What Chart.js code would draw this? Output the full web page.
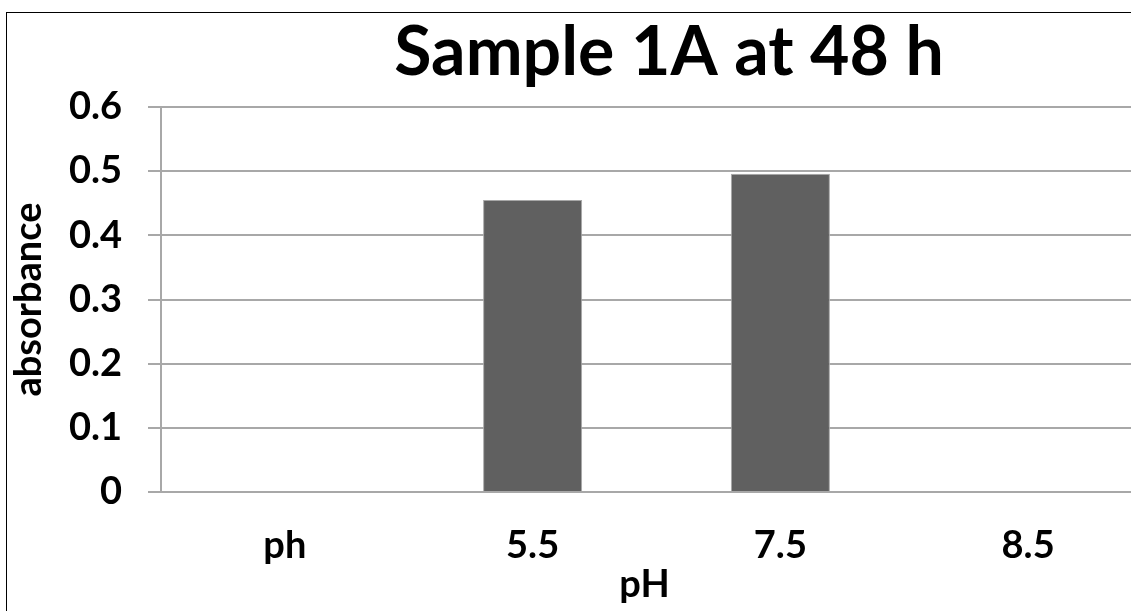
<!DOCTYPE html>
<html>
<head>
<meta charset="utf-8">
<script src="https://cdn.jsdelivr.net/npm/chart.js@4/dist/chart.umd.min.js"></script>
<style>
  html, body { margin: 0; padding: 0; background: #fff; overflow: hidden; }
  #wrap { position: relative; width: 1131px; height: 611px; overflow: hidden; }
  #chart { position: absolute; left: 0; top: 0; }
  #frame { position: absolute; left: 6px; top: 12px; width: 1300px; height: 700px;
           border-left: 1px solid #000; border-top: 1px solid #000; pointer-events: none; }
</style>
</head>
<body>
<div id="wrap">
  <canvas id="chart" width="1160" height="611"></canvas>
  <div id="frame"></div>
</div>
<script>
labels = ['ph', '5.5', '7.5', '8.5']
absorbance = [null, 0.455, 0.496, null]
yTicks = [0, 0.1, 0.2, 0.3, 0.4, 0.5, 0.6]

font = 'Lato'
Chart.defaults.font.family = font
Chart.defaults.font.weight = 'bold'
Chart.defaults.color = '#000'

// move the chart title and the x axis title to where the original has them
titleShift = {
    id: 'titleShift',
    afterLayout(chart) {
        chart.titleBlock.left += 186
        const sx = chart.scales.x
        if (!sx._shifted) {
            const orig = sx.drawTitle.bind(sx)
            sx.drawTitle = function () {
                this.left -= 12; this.right -= 12
                orig()
                this.left += 12; this.right += 12
            }
            sx._shifted = true
        }
    }
}

config = {
    type: 'bar',
    data: {
        labels,
        datasets: [{
            label: 'absorbance',
            data: absorbance,
            backgroundColor: '#606060',
            borderColor: '#a8a8a8',
            borderWidth: 1,
            barPercentage: 0.4,
            categoryPercentage: 1,
        }]
    },
    options: {
        responsive: false,
        animation: false,
        layout: { padding: { left: 0, right: 8, top: 0, bottom: 0 } },
        plugins: {
            legend: { display: false },
            tooltip: { enabled: false },
            title: {
                display: true,
                text: 'Sample 1A at 48 h',
                color: '#000',
                font: { size: 68, weight: 'bold', lineHeight: 1 },
                padding: { top: 19, bottom: 20 },
            },
        },
        scales: {
            x: {
                grid: { display: false, drawTicks: false },
                border: { display: false },
                ticks: { font: { size: 38 }, padding: 31, color: '#000' },
                title: { display: true, text: 'pH', color: '#000',
                         font: { size: 38, weight: 'bold' }, padding: { top: 0, bottom: 3 } },
                afterFit(scale) { scale.height = 119 },
            },
            y: {
                min: 0,
                max: 0.6,
                afterBuildTicks(scale) { scale.ticks = yTicks.map(v => ({ value: v })) },
                grid: { color: '#a8a8a8', lineWidth: 2, tickLength: 13, drawTicks: true },
                border: { color: '#a8a8a8', width: 2 },
                ticks: { font: { size: 38 }, padding: 26, color: '#000',
                         callback: v => String(v) },
                title: { display: true, text: 'absorbance', color: '#000',
                         font: { size: 38, weight: 'bold' }, padding: { top: 6, bottom: 0 } },
                afterFit(scale) { scale.width = 161 },
            }
        }
    },
    plugins: [titleShift]
};

ctx = document.getElementById('chart');
new Chart(ctx, config);
</script>
</body>
</html>
